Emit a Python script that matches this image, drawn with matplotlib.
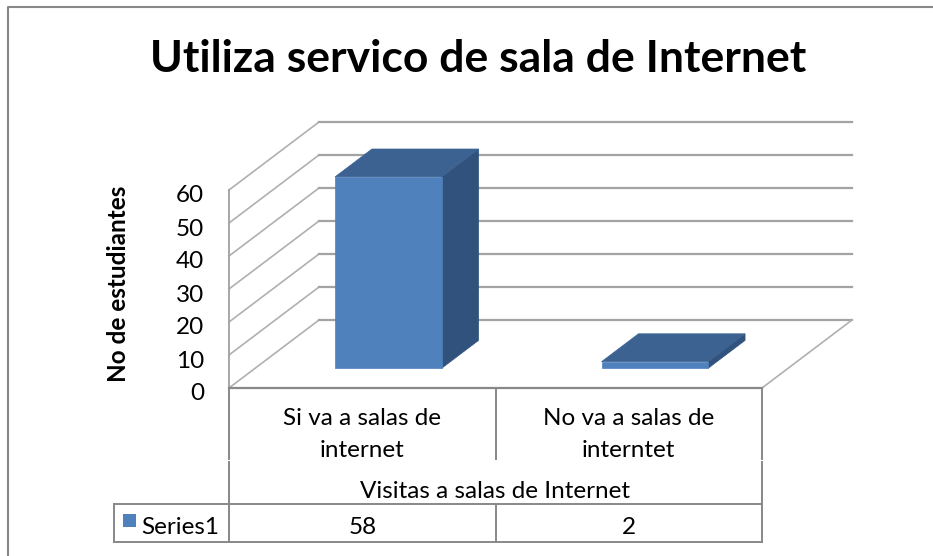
import matplotlib
matplotlib.use('Agg')
import matplotlib.pyplot as plt
from matplotlib.patches import Polygon, Rectangle
import numpy as np

# ---- data ----
title = "Utiliza servico de sala de Internet"
y_label = "No de estudiantes"
x_title = "Visitas a salas de Internet"
categories = ["Si va a salas de\ninternet", "No va a salas de\ninterntet"]
series_name = "Series1"
values = [58, 2]
y_ticks = [0, 10, 20, 30, 40, 50, 60]

W, H = 933, 556
plt.rcParams['font.family'] = ['Lato', 'DejaVu Sans']
fig = plt.figure(figsize=(W / 100, H / 100), dpi=100)

# data axes: defines the front plane of the 3-D box
ax = fig.add_axes([229 / W, (H - 388) / H, (762 - 229) / W, (388 - 190) / H])
ax.set_xlim(-0.5, len(categories) - 0.5)
ax.set_ylim(0, max(y_ticks))
ax.axis('off')

# overlay in pixel coordinates (y up)
ov = fig.add_axes([0, 0, 1, 1])
ov.set_xlim(0, W)
ov.set_ylim(0, H)
ov.axis('off')

DEPTH = np.array([90.0, 68.0])


def pt(x, v, d=0.0):
    p = ax.transData.transform((x, v))
    return p + d * DEPTH


def Y(y):
    return H - y


grid_c = '#A3A3A3'
edge_c = '#888888'
x_lo, x_hi = -0.5, len(categories) - 0.5
FS = 17.5

# back wall + left wall gridlines
for v in y_ticks:
    a, b, c = pt(x_lo, v, 0), pt(x_lo, v, 1), pt(x_hi, v, 1)
    ov.plot([a[0], b[0]], [a[1], b[1]], color='#B0B0B0', lw=1.2, zorder=1)
    ov.plot([b[0], c[0]], [b[1], c[1]], color=grid_c, lw=1.6, zorder=1)
    ov.text(a[0] - 25, a[1] - 6, str(v), ha='right', va='center',
            fontsize=FS, color='#000000', zorder=5)

# left wall front vertical edge
a, b = pt(x_lo, 0), pt(x_lo, max(y_ticks))
ov.plot([a[0], b[0]], [a[1], b[1]], color='#A0A0A0', lw=1.3, zorder=2)
# floor right diagonal
a, b = pt(x_hi, 0, 0), pt(x_hi, 0, 1)
ov.plot([a[0], b[0]], [a[1], b[1]], color='#B0B0B0', lw=1.2, zorder=1)
# floor front edge
a, b = pt(x_lo, 0), pt(x_hi, 0)
ov.plot([a[0], b[0]], [a[1], b[1]], color=edge_c, lw=1.6, zorder=2)

# bars
front_c, top_c, side_c = '#4F81BD', '#3C6292', '#30527C'
f, bk, hw = 0.29, 0.70, 0.2
for i, v in enumerate(values):
    x0, x1 = i - hw, i + hw
    front = [pt(x0, 0, f), pt(x1, 0, f), pt(x1, v, f), pt(x0, v, f)]
    top = [pt(x0, v, f), pt(x1, v, f), pt(x1, v, bk), pt(x0, v, bk)]
    side = [pt(x1, 0, f), pt(x1, 0, bk), pt(x1, v, bk), pt(x1, v, f)]
    ov.add_patch(Polygon(side, closed=True, fc=side_c, ec=side_c, lw=0.5, zorder=3))
    ov.add_patch(Polygon(top, closed=True, fc=top_c, ec=top_c, lw=0.5, zorder=3))
    ov.add_patch(Polygon(front, closed=True, fc=front_c, ec=front_c, lw=0.5, zorder=4))

# ---- data table ----
bounds = [pt(x, 0)[0] for x in np.arange(len(categories) + 1) - 0.5]
row_top, row_bot = 504, 542
left_cell = 114
for j, xb in enumerate(bounds):
    if j in (0, len(bounds) - 1):
        ov.plot([xb, xb], [Y(389), Y(459)], color=edge_c, lw=1.4, zorder=2)
        ov.plot([xb, xb], [Y(462), Y(row_bot)], color=edge_c, lw=1.4, zorder=2)
    else:
        ov.plot([xb, xb], [Y(389), Y(459)], color=edge_c, lw=1.4, zorder=2)
        ov.plot([xb, xb], [Y(row_top), Y(row_bot)], color=edge_c, lw=1.4, zorder=2)
ov.plot([left_cell, bounds[-1]], [Y(row_top), Y(row_top)], color=edge_c, lw=1.4, zorder=2)
ov.plot([left_cell, bounds[-1]], [Y(row_bot), Y(row_bot)], color=edge_c, lw=1.4, zorder=2)
ov.plot([left_cell, left_cell], [Y(row_top), Y(row_bot)], color=edge_c, lw=1.4, zorder=2)

for i, cat in enumerate(categories):
    cx = (bounds[i] + bounds[i + 1]) / 2
    for k, line in enumerate(cat.split('\n')):
        ov.text(cx, Y(425 + 32 * k), line, ha='center', va='baseline',
                fontsize=FS, color='#000000')
    ov.text(cx, Y(534), str(values[i]), ha='center', va='baseline',
            fontsize=FS, color='#000000')

ov.text((bounds[0] + bounds[-1]) / 2, Y(498), x_title, ha='center', va='baseline',
        fontsize=FS, color='#000000')

ov.add_patch(Rectangle((123, Y(527)), 13, 13, fc=front_c, ec='none', zorder=3))
ov.text(141, Y(534), series_name, ha='left', va='baseline', fontsize=FS, color='#000000')

# axis title and chart title
ov.text(119, Y(284), y_label, rotation=90, ha='center', va='center',
        fontsize=17.5, fontweight='bold', color='#000000')
ov.text(478, Y(72), title, ha='center', va='baseline', fontsize=32,
        fontweight='bold', color='#000000')

# chart area border (cropped at right/bottom)
ov.plot([8, 8, W + 5], [-5, Y(7), Y(7)], color='#878787', lw=1.5, zorder=6)

fig.savefig('out.png', dpi=100)
